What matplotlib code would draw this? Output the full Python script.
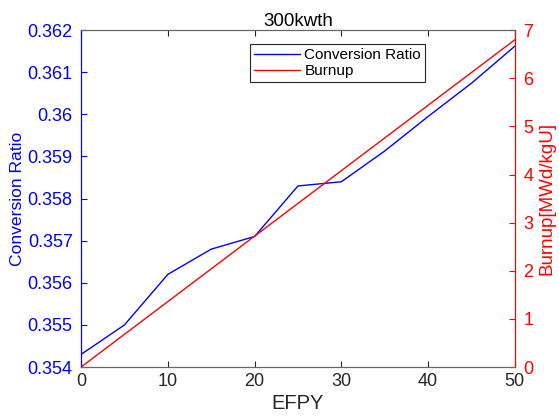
import matplotlib.pyplot as plt
from matplotlib.lines import Line2D

plt.rcParams['font.family'] = ['Liberation Sans', 'DejaVu Sans']

efpy = [0, 5, 10, 15, 20, 25, 30, 35, 40, 45, 50]
conversion_ratio = [0.3543, 0.3550, 0.3562, 0.3568, 0.3571, 0.3583, 0.3584,
                    0.35913, 0.35995, 0.36074, 0.36162]
burnup = [0, 0.68, 1.36, 2.04, 2.72, 3.40, 4.08, 4.76, 5.44, 6.12, 6.80]

fig = plt.figure(figsize=(5.59, 4.19), dpi=100)
ax = fig.add_axes([0.145, 0.124, 0.776, 0.804])
ax2 = ax.twinx()

dark = '#262626'
ax.plot(efpy, conversion_ratio, color='#0000ff', lw=1.0)
ax2.plot(efpy, burnup, color='#ff0000', lw=1.0)

ax.set_xlim(0, 50)
ax.set_ylim(0.354, 0.362)
ax2.set_ylim(0, 7)
ax.set_xticks(range(0, 51, 10))
ax.set_yticks([0.354 + 0.001 * i for i in range(9)])
ax.set_yticklabels(['0.354', '0.355', '0.356', '0.357', '0.358', '0.359', '0.36', '0.361', '0.362'])
ax2.set_yticks(range(0, 8))

ax.tick_params(axis='x', direction='in', top=True, colors=dark, labelsize=13, length=4, pad=4)
ax.tick_params(axis='y', direction='in', colors='#0000ff', labelsize=13, length=4, pad=6)
ax2.tick_params(axis='y', direction='in', colors='#ff0000', labelsize=13, length=4, pad=6)

for a in (ax, ax2):
    a.spines['top'].set_color('#666666')
    a.spines['bottom'].set_color('#666666')
    a.spines['left'].set_color('#0000ff')
    a.spines['right'].set_color('#ff0000')

ax.set_xlabel('EFPY', fontsize=14.5, color=dark, labelpad=3)
ax.set_ylabel('Conversion Ratio', fontsize=12.6, color='#0000ff', labelpad=2)
ax2.set_ylabel('Burnup[MWd/kgU]', fontsize=13.5, color='#ff0000', labelpad=4)
ax.set_title('300kwth', fontsize=13.5, color='black', pad=3)

handles = [Line2D([], [], color='#0000ff', lw=1.0), Line2D([], [], color='#ff0000', lw=1.0)]
leg = ax2.legend(handles, ['Conversion Ratio', 'Burnup'], loc='upper left',
                 bbox_to_anchor=(0.39, 0.958), fontsize=11, frameon=True,
                 fancybox=False, edgecolor=dark, framealpha=1,
                 handlelength=3.0, borderpad=0.25, labelspacing=0.15, handletextpad=0.3,
                 borderaxespad=0)
leg.get_frame().set_linewidth(0.8)

fig.savefig('out.png', dpi=100)
